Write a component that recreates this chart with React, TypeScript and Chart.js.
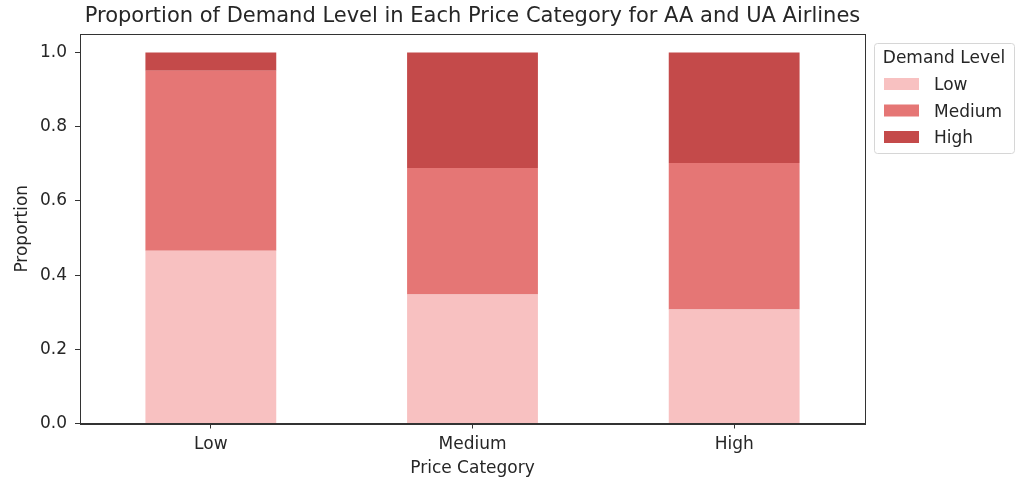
import React, { useEffect, useRef } from "react";
import { Chart, registerables } from "chart.js";

Chart.register(...registerables);

const categories = ["Low", "Medium", "High"];
const lowShare = [0.466, 0.348, 0.307];
const mediumShare = [0.485, 0.341, 0.395];
const highShare = [0.049, 0.311, 0.298];
const yTicks = [0, 0.2, 0.4, 0.6, 0.8, 1.0];
const seriesNames = ["Low", "Medium", "High"];
const seriesColors = ["#f8c1c1", "#e57675", "#c44a4a"];

const FONT = "'DejaVu Sans', sans-serif";
const TEXT = "#262626";

const framePlugin = {
  id: "frameAndExtras",
  afterDraw(chart: any) {
    const { ctx, chartArea } = chart;
    ctx.save();
    ctx.strokeStyle = "#333333";
    ctx.lineWidth = 1;
    ctx.strokeRect(
      Math.round(chartArea.left) + 0.5,
      Math.round(chartArea.top) + 0.5,
      Math.round(chartArea.right - chartArea.left),
      Math.round(chartArea.bottom - chartArea.top)
    );
    ctx.fillStyle = TEXT;
    ctx.font = `21px ${FONT}`;
    ctx.textAlign = "center";
    ctx.textBaseline = "middle";
    ctx.fillText(
      "Proportion of Demand Level in Each Price Category for AA and UA Airlines",
      (chartArea.left + chartArea.right) / 2,
      17
    );
    const lx = 874, ly = 43, lw = 140, lh = 110;
    ctx.fillStyle = "rgba(255,255,255,0.8)";
    ctx.strokeStyle = "#d6d6d6";
    ctx.beginPath();
    (ctx as any).roundRect(lx + 0.5, ly + 0.5, lw, lh, 3);
    ctx.fill();
    ctx.stroke();
    ctx.fillStyle = TEXT;
    ctx.font = `17px ${FONT}`;
    ctx.textAlign = "center";
    ctx.fillText("Demand Level", lx + lw / 2, 59);
    ctx.textAlign = "left";
    seriesNames.forEach((name, i) => {
      const cy = 84 + i * 26.5;
      ctx.fillStyle = seriesColors[i];
      ctx.fillRect(884, cy - 6, 35, 12);
      ctx.fillStyle = TEXT;
      ctx.fillText(name, 934, cy + 2);
    });
    ctx.restore();
  },
};

export default function App() {
  const ref = useRef<HTMLCanvasElement | null>(null);
  useEffect(() => {
    if (!ref.current) return;
    const data = [lowShare, mediumShare, highShare];
    const chart = new Chart(ref.current, {
      type: "bar",
      data: {
        labels: categories,
        datasets: seriesNames.map((name, i) => ({
          label: name,
          data: data[i],
          backgroundColor: seriesColors[i],
          borderWidth: 0,
          barPercentage: 0.5,
          categoryPercentage: 1,
        })),
      },
      options: {
        animation: false,
        responsive: false,
        layout: { padding: { left: 0, right: 159, top: 34, bottom: 0 } },
        plugins: { legend: { display: false }, title: { display: false }, tooltip: { enabled: false } },
        scales: {
          x: {
            stacked: true,
            grid: { display: true, offset: false, drawOnChartArea: false, drawTicks: true, tickLength: 5, color: "#333333" },
            border: { display: true, color: "#333333" },
            ticks: { color: TEXT, font: { family: FONT, size: 17 }, padding: 6 },
            title: { display: true, text: "Price Category", color: TEXT, font: { family: FONT, size: 17 }, padding: { top: 2, bottom: 11 } },
            afterFit: (scale: any) => { scale.height = 490 - 423.5; },
          },
          y: {
            stacked: true,
            min: 0,
            max: 1.05,
            afterBuildTicks: (scale: any) => { scale.ticks = yTicks.map((v) => ({ value: v })); },
            grid: { display: true, drawOnChartArea: false, drawTicks: true, tickLength: 5, color: "#333333" },
            border: { display: true, color: "#333333" },
            ticks: { color: TEXT, font: { family: FONT, size: 17 }, padding: 8, callback: (v: any) => Number(v).toFixed(1) },
            title: { display: true, text: "Proportion", color: TEXT, font: { family: FONT, size: 17 }, padding: { top: 12, bottom: 6 } },
            afterFit: (scale: any) => { scale.width = 80; },
          },
        },
      },
      plugins: [framePlugin],
    });
    return () => chart.destroy();
  }, []);
  return (
    <div style={{ position: "fixed", left: 0, top: 0, width: 1024, height: 490, background: "#fff" }}>
      <canvas ref={ref} width={1024} height={490} style={{ width: 1024, height: 490 }} />
    </div>
  );
}
